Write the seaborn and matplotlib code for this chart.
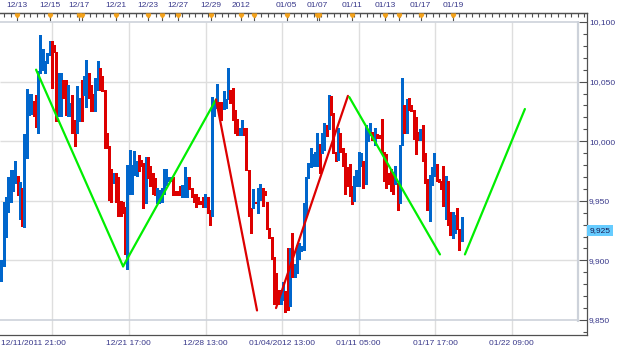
import numpy as np
import matplotlib
matplotlib.use("Agg")
import matplotlib.pyplot as plt
import matplotlib.transforms as mtransforms
from matplotlib.path import Path
from matplotlib.ticker import FixedLocator
import seaborn as sns

# ---------------- data (4h candles) ----------------
opens = [
    9887, 9896, 9943, 9950, 9955, 9959, 9965, 9970, 9956, 9958,
    9950, 9993, 10025, 10027, 10030, 10036, 10012, 10058, 10060, 10061,
    10066, 10073, 10082, 10081, 10075, 10035, 10021, 10047, 10046, 10027,
    10025, 10028, 10018, 10007, 10025, 10037, 10040, 10045, 10056, 10047,
    10040, 10043, 10052, 10061, 10052, 10043, 10007, 9996, 9970, 9965,
    9968, 9968, 9948, 9948, 9944, 9919, 9963, 9963, 9975, 9972,
    9984, 9983, 9982, 9949, 9983, 9970, 9971, 9969, 9955, 9955,
    9956, 9959, 9963, 9967, 9967, 9970, 9958, 9958, 9958, 9955,
    9955, 9960, 9970, 9961, 9956, 9956, 9949, 9949, 9953, 9947,
    9952, 9941, 9937, 10028, 10030, 10032, 10032, 10028, 10029, 10035,
    10039, 10040, 10026, 10019, 10007, 10008, 10008, 10008, 9976, 9944,
    9944, 9949, 9951, 9958, 9959, 9958, 9949, 9927, 9919, 9903,
    9885, 9869, 9864, 9870, 9874, 9875, 9870, 9898, 9886, 9889,
    9902, 9908, 9909, 9941, 9970, 9978, 9980, 9979, 9982, 9998,
    9993, 9993, 10012, 10010, 10035, 10024, 9991, 9985, 10007, 9994,
    9979, 9973, 9962, 9959, 9954, 9963, 9962, 9979, 9982, 9964,
    10001, 10005, 10008, 10000, 10006, 10005, 10005, 9991, 9989, 9970,
    9966, 9966, 9964, 9965, 9955, 9997, 10019, 10007, 10033, 10028,
    10026, 10008, 10004, 10001, 10004, 9983, 9968, 9942, 9972, 9972,
    9978, 9968, 9966, 9961, 9958, 9965, 9930, 9925, 9930, 9937,
    9926, 9917,
]
highs = [
    9900, 9949, 9953, 9970, 9976, 9976, 9983, 9971, 9966, 9961,
    10006, 10044, 10040, 10040, 10034, 10039, 10059, 10089, 10077, 10067,
    10074, 10084, 10084, 10081, 10075, 10057, 10057, 10051, 10051, 10047,
    10032, 10039, 10018, 10046, 10036, 10051, 10055, 10068, 10057, 10047,
    10040, 10053, 10067, 10061, 10055, 10043, 10007, 9996, 9977, 9973,
    9973, 9970, 9950, 9949, 9945, 9980, 9993, 9980, 9992, 9983,
    9988, 9984, 9982, 9987, 9987, 9979, 9973, 9969, 9961, 9959,
    9961, 9977, 9977, 9970, 9970, 9970, 9958, 9958, 9962, 9963,
    9978, 9970, 9970, 9961, 9956, 9956, 9953, 9950, 9953, 9956,
    9953, 9942, 10037, 10033, 10048, 10033, 10033, 10042, 10035, 10061,
    10043, 10045, 10026, 10019, 10011, 10018, 10011, 10011, 9976, 9944,
    9960, 9949, 9961, 9964, 9961, 9958, 9949, 9927, 9920, 9903,
    9889, 9875, 9874, 9882, 9874, 9910, 9910, 9923, 9897, 9913,
    9915, 9912, 9948, 9970, 9982, 9994, 9989, 9991, 10007, 9998,
    10007, 10015, 10014, 10039, 10038, 10024, 9991, 10011, 10007, 9994,
    9990, 9978, 9981, 9962, 9971, 9976, 9991, 9990, 9983, 10014,
    10008, 10015, 10008, 10011, 10006, 10005, 10019, 9991, 9989, 9973,
    9977, 9974, 9979, 9965, 9997, 10053, 10030, 10035, 10036, 10030,
    10026, 10020, 10008, 10010, 10014, 9990, 9968, 9972, 9978, 9990,
    9981, 9968, 9967, 9979, 9971, 9967, 9941, 9941, 9938, 9944,
    9926, 9936,
]
lows = [
    9883, 9895, 9920, 9941, 9949, 9958, 9965, 9955, 9935, 9929,
    9928, 9986, 10022, 10023, 10021, 10012, 10007, 10057, 10060, 10057,
    10066, 10072, 10045, 10075, 10017, 10021, 10021, 10036, 10022, 10021,
    10021, 10007, 9996, 10007, 10017, 10017, 10039, 10029, 10036, 10025,
    10025, 10025, 10043, 10043, 10042, 9994, 9994, 9951, 9949, 9965,
    9949, 9937, 9937, 9940, 9905, 9893, 9956, 9956, 9972, 9971,
    9975, 9979, 9944, 9948, 9969, 9962, 9956, 9955, 9948, 9948,
    9949, 9956, 9963, 9967, 9967, 9955, 9955, 9955, 9955, 9953,
    9953, 9953, 9960, 9953, 9949, 9945, 9947, 9947, 9945, 9945,
    9940, 9930, 9937, 10021, 10028, 10024, 10018, 10027, 10028, 10035,
    10032, 10018, 10007, 10005, 10005, 10005, 10005, 9976, 9937, 9923,
    9944, 9948, 9940, 9951, 9946, 9955, 9926, 9919, 9901, 9863,
    9863, 9863, 9863, 9867, 9857, 9858, 9862, 9886, 9886, 9889,
    9901, 9908, 9909, 9938, 9969, 9978, 9979, 9979, 9979, 9973,
    9990, 9993, 10004, 10010, 10022, 9990, 9983, 9984, 9991, 9979,
    9956, 9962, 9954, 9947, 9950, 9962, 9962, 9979, 9961, 9964,
    10000, 10005, 10001, 9997, 10003, 10003, 9991, 9967, 9961, 9964,
    9958, 9956, 9964, 9942, 9948, 9997, 10007, 10007, 10026, 10025,
    10002, 9989, 10001, 10001, 9983, 9965, 9942, 9933, 9963, 9971,
    9967, 9966, 9960, 9946, 9935, 9930, 9921, 9919, 9923, 9926,
    9909, 9916,
]
closes = [
    9897, 9948, 9947, 9959, 9959, 9965, 9970, 9956, 9958, 9950,
    9993, 10025, 10030, 10031, 10025, 10012, 10059, 10061, 10065, 10067,
    10073, 10081, 10080, 10075, 10021, 10040, 10047, 10036, 10025, 10030,
    10028, 10017, 10007, 10037, 10030, 10017, 10047, 10050, 10047, 10025,
    10025, 10052, 10061, 10043, 10042, 9994, 9996, 9968, 9955, 9968,
    9949, 9948, 9944, 9944, 9910, 9962, 9970, 9970, 9985, 9983,
    9980, 9980, 9951, 9983, 9970, 9969, 9964, 9955, 9958, 9959,
    9959, 9965, 9968, 9970, 9970, 9959, 9955, 9955, 9955, 9958,
    9970, 9965, 9961, 9955, 9952, 9950, 9948, 9948, 9948, 9952,
    9941, 9937, 10028, 10030, 10035, 10028, 10024, 10033, 10034, 10039,
    10032, 10026, 10007, 10007, 10009, 10011, 10007, 9976, 9944, 9934,
    9949, 9948, 9959, 9962, 9955, 9955, 9926, 9919, 9902, 9884,
    9875, 9865, 9874, 9875, 9870, 9870, 9910, 9886, 9892, 9905,
    9909, 9909, 9942, 9970, 9982, 9982, 9983, 9982, 9998, 9993,
    10002, 10015, 10010, 10033, 10022, 9990, 9984, 9995, 9994, 9979,
    9972, 9962, 9959, 9954, 9962, 9968, 9981, 9982, 9964, 10003,
    10008, 10008, 10001, 10005, 10003, 10004, 9991, 9988, 9967, 9966,
    9963, 9963, 9970, 9955, 9997, 10019, 10007, 10033, 10026, 10025,
    10002, 10003, 10001, 10004, 9983, 9965, 9942, 9972, 9976, 9976,
    9967, 9966, 9962, 9958, 9961, 9930, 9921, 9930, 9937, 9926,
    9915, 9926,
]

# zig-zag pattern segments (bar index, price)
green1_x, green1_y = [15.1, 53.1], [10060, 9895]
green2_x, green2_y = [53.1, 93.7], [9895, 10035]
red1_x, red1_y = [93.7, 111.6], [10035, 9858]
red2_x, red2_y = [119.9, 151.3], [9860, 10038]
green3_x, green3_y = [151.9, 191.5], [10037, 9905]
green4_x, green4_y = [202.4, 228.6], [9905, 10027]

price_ticks = [9850, 9900, 9950, 10000, 10050, 10100]
price_labels = ["9,850", "9,900", "9,950", "10,000", "10,050", "10,100"]
last_price, last_label = 9925, "9,925"

bottom_pos = [22.2, 55.6, 89.1, 122.6, 156.0, 189.5, 222.9]
bottom_labels = ["", "12/21 17:00", "12/28 13:00", "01/04/2012 13:00",
                 "01/11 05:00", "01/17 17:00", "01/22 09:00"]
first_label = "12/11/2011 21:00"

top_pos = [6.9, 21.2, 34.0, 35.2, 50.0, 64.1, 70.0, 77.2, 91.4, 104.5,
           110.3, 124.6, 137.7, 138.8, 153.2, 167.5, 173.7, 183.1, 197.3]
top_labels = ["12/13", "12/15", "12/17", "", "12/21", "12/23", "", "12/27",
              "12/29", "2012", "", "01/05", "01/07", "", "01/11", "01/13", "",
              "01/17", "01/19"]

# ---------------- style ----------------
sns.set_style("white")
plt.rcParams["font.family"] = ["Liberation Sans", "DejaVu Sans"]

BLUE = "#0066CC"
RED = "#DD0000"
GREEN = "#00EE00"
TXT = "#38388A"
SPINE = "#505050"
GRID = "#DEDEDE"
FRAME = "#CDD2DA"

W, H = 625, 352
fig = plt.figure(figsize=(W / 100, H / 100), dpi=100)
fig.patch.set_facecolor("white")
ax = fig.add_axes([0, (H - 335) / H, 587 / W, 322 / H])
ax.set_facecolor("white")

XMIN, XMAX = -0.655, 255.72
YMIN, YMAX = 9837.4, 10107.55
FRAME_X = 251.8

o = np.array(opens, float)
h = np.array(highs, float)
l = np.array(lows, float)
c = np.array(closes, float)
idx = np.arange(len(o))
cols = np.where(c >= o, BLUE, RED)

# grid + frame
ax.hlines(price_ticks[1:-1], XMIN, FRAME_X, color=GRID, lw=1.0, zorder=0.5)
ax.hlines([price_ticks[0], price_ticks[-1]], XMIN, FRAME_X, color=FRAME, lw=1.2, zorder=0.6)
ax.vlines(bottom_pos, YMIN, price_ticks[-1], color=GRID, lw=1.0, zorder=0.5)
ax.vlines([FRAME_X], price_ticks[0] - 1.5, price_ticks[-1] + 0.5, color=FRAME, lw=1.6, zorder=0.6)

# candles
ax.vlines(idx, l, h, colors=cols, lw=0.75, antialiased=False, zorder=2)
body_lo = np.minimum(o, c)
body_h = np.maximum(np.abs(c - o), 1.0)
ax.bar(idx, body_h, bottom=body_lo, width=0.68, color=cols, lw=0,
       antialiased=True, zorder=2.1)

# zig-zag pattern
for xs, ys, col in [(green1_x, green1_y, GREEN), (green2_x, green2_y, GREEN),
                    (red1_x, red1_y, RED), (red2_x, red2_y, RED),
                    (green3_x, green3_y, GREEN), (green4_x, green4_y, GREEN)]:
    sns.lineplot(x=xs, y=ys, color=col, lw=1.6, ax=ax, zorder=3)

ax.set_xlim(XMIN, XMAX)
ax.set_ylim(YMIN, YMAX)
ax.set_xlabel("")
ax.set_ylabel("")

# spines
ax.spines["left"].set_visible(False)
for side in ["bottom", "right", "top"]:
    ax.spines[side].set_color(SPINE)
    ax.spines[side].set_linewidth(0.9)

# right price axis
ax.yaxis.tick_right()
ax.set_yticks(price_ticks)
ax.set_yticklabels(price_labels)
ax.yaxis.set_minor_locator(FixedLocator(np.arange(9840, 10108, 10)))
ax.tick_params(axis="y", which="major", direction="in", length=6, width=0.8,
               color=SPINE, labelsize=6, labelcolor=TXT, pad=1.5,
               left=False, right=True)
ax.tick_params(axis="y", which="minor", direction="in", length=3, width=0.8,
               color=SPINE, left=False, right=True)

# bottom time axis
ax.set_xticks(bottom_pos)
ax.set_xticklabels(bottom_labels)
ax.xaxis.set_minor_locator(FixedLocator(np.arange(5.55, 256, 8.364)))
ax.tick_params(axis="x", which="major", direction="in", length=6, width=0.8,
               color=SPINE, labelsize=6, labelcolor=TXT, pad=3.5)
ax.tick_params(axis="x", which="minor", direction="in", length=2.5, width=0.8,
               color=SPINE)
ax.annotate(first_label, xy=(0, 0), xycoords="axes fraction",
            xytext=(0.5, -3.5), textcoords="offset points",
            ha="left", va="top", fontsize=6, color=TXT)

# top date ruler
sec = ax.secondary_xaxis("top")
sec.set_xticks(top_pos)
sec.set_xticklabels(top_labels)
sec.xaxis.set_minor_locator(FixedLocator(np.arange(1.1, 256, 2.88)))
sec.tick_params(axis="x", which="major", direction="in", length=6, width=0.8,
                color=SPINE, labelsize=6, labelcolor=TXT, pad=3)
sec.tick_params(axis="x", which="minor", direction="in", length=3, width=0.8,
                color=SPINE)
sec.spines["top"].set_color(SPINE)
sec.spines["top"].set_linewidth(0.9)

marker_path = Path([(-1, 0), (1, 0), (1, -0.9), (0, -2), (-1, -0.9), (-1, 0)],
                   [Path.MOVETO, Path.LINETO, Path.LINETO, Path.LINETO,
                    Path.LINETO, Path.CLOSEPOLY])
trans_top = mtransforms.blended_transform_factory(ax.transData, ax.transAxes)
ax.plot(top_pos, [1.0] * len(top_pos), ls="none", marker=marker_path,
        markersize=7, color="#F5A31A", mec="#E89512", mew=0.2,
        transform=trans_top, clip_on=False, zorder=6)

# current price tag
trans_r = mtransforms.blended_transform_factory(ax.transAxes, ax.transData)
ax.text(1.0, last_price, last_label,
        transform=trans_r + mtransforms.ScaledTranslation(2.5 / 100, 0, fig.dpi_scale_trans),
        ha="left", va="center", fontsize=6, color="#1A1A50",
        bbox=dict(boxstyle="square,pad=0.25", fc="#66CCFF", ec="none"),
        zorder=7, clip_on=False)

fig.savefig("out.png", dpi=100)
